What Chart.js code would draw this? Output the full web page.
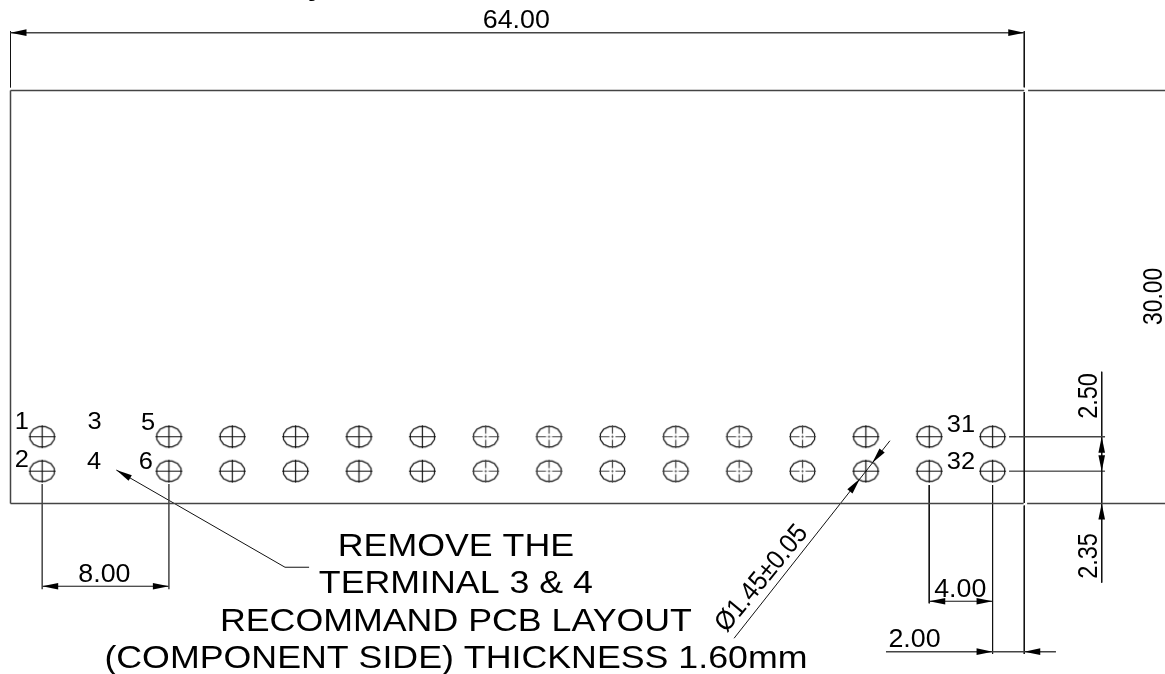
<!DOCTYPE html>
<html>
<head>
<meta charset="utf-8">
<title>PCB layout</title>
<script src="https://cdn.jsdelivr.net/npm/chart.js@4/dist/chart.umd.min.js"></script>
<style>
  html, body { margin: 0; padding: 0; background: #fff; }
  canvas { display: block; }
</style>
</head>
<body>
<canvas id="grafico" width="1165" height="674"></canvas>
<script>
// all values in mm, measured from the bottom left corner of the board
const solidHoleX = [2, 10, 14, 18, 22, 26, 54, 58, 62];
const dashedHoleX = [30, 34, 38, 42, 46, 50];
const holeRowY = [4.85, 2.35];

// [x1, y1, x2, y2]
const boardLines = [
  [0, 30, 64, 30], [64.24, 30, 72.89, 30],
  [0, 0, 63.96, 0], [64.18, 0, 72.89, 0],
  [0, 0, 0, 30],
  [0, 34.2, 64, 34.2],
  [2, 1.42, 2, -6.23], [10, 1.42, 10, -6.23],
  [63.04, 4.85, 69.1, 4.85],
  [55.27, -10.76, 66, -10.76]
];
const thinLines = [
  [0, 34.3, 0, 30.23],
  [64, 34.3, 64, 30.23], [64, 29.89, 64, 0.04], [64, -0.15, 64, -10.93],
  [63.04, 2.35, 69.1, 2.35],
  [68.89, 9.57, 68.89, -5.75],
  [58, 1.34, 58, -7.25], [62, 1.34, 62, -10.93],
  [2, -6.01, 10, -6.01], [58, -7.1, 62, -7.1],
  [6.68, 2.43, 17.33, -4.63], [17.33, -4.63, 18.85, -4.63],
  [55.52, 4.56, 45.68, -9.79]
];

// tip x, tip y, direction in degrees on screen
const arrowTips = [
  [0, 34.2, 180], [64, 34.2, 0],
  [2, -6.01, 180], [10, -6.01, 0],
  [58, -7.1, 180], [62, -7.1, 0],
  [62, -10.76, 0], [64, -10.76, 180],
  [68.89, 4.85, -90], [68.89, 2.35, 90], [68.89, 0, -90],
  [54.4, 2.94, 128.3], [53.62, 1.79, -51.7],
  [6.68, 2.43, -150.2]
];

const dimensionTexts = ['64.00', '30.00', '2.50', '2.35', '8.00', '4.00', '2.00', '\u00d81.45\u00b10.05'];
const terminalTexts = ['1', '2', '3', '4', '5', '6', '31', '32'];
const noteTexts = ['REMOVE THE', 'TERMINAL 3 & 4', 'RECOMMAND PCB LAYOUT', '(COMPONENT SIDE) THICKNESS 1.60mm'];

function linhas(segmentos) {
  const pontos = [];
  segmentos.forEach(s => {
    pontos.push({ x: s[0], y: s[1] }, { x: s[2], y: s[3] }, { x: null, y: null });
  });
  return pontos;
}

function furos(xs, y) {
  return xs.map(x => ({ x, y }));
}

// hole symbol used as point style
function simboloFuro(tracejado) {
  const c = document.createElement('canvas');
  c.width = 31;
  c.height = 27;
  const g = c.getContext('2d');
  const cx = 15.5, cy = 13.5, rx = 12.5, ry = 10.5;
  g.strokeStyle = '#111';
  g.lineWidth = 1.2;
  g.beginPath();
  for (let i = 0; i < 12; i++) {
    const a = (i + 0.5) * Math.PI / 6;
    g.lineTo(cx + rx * Math.cos(a), cy + ry * Math.sin(a));
  }
  g.closePath();
  g.stroke();
  g.strokeStyle = tracejado ? '#444' : '#111';
  g.beginPath();
  if (tracejado) {
    g.moveTo(cx - rx - 1, cy); g.lineTo(cx - 3, cy);
    g.moveTo(cx - 1, cy); g.lineTo(cx + 1, cy);
    g.moveTo(cx + 3, cy); g.lineTo(cx + rx + 1, cy);
    g.moveTo(cx, cy - ry - 1); g.lineTo(cx, cy - 3);
    g.moveTo(cx, cy - 1); g.lineTo(cx, cy + 1);
    g.moveTo(cx, cy + 3); g.lineTo(cx, cy + ry + 1);
  } else {
    g.moveTo(cx - rx - 1, cy); g.lineTo(cx + rx + 1, cy);
    g.moveTo(cx, cy - ry - 1); g.lineTo(cx, cy + ry + 1);
  }
  g.stroke();
  return c;
}

const furoSolido = simboloFuro(false);
const furoTracejado = simboloFuro(true);

// text placement: text, x, y, font px, angle, stretch along the baseline, weight
const rotulos = [
  [dimensionTexts[0], 31.93, 34.52, 26, 0, 1.03],
  [dimensionTexts[1], 72.71, 15.04, 28, -90, 0.814],
  [dimensionTexts[2], 68.57, 7.81, 28, -90, 0.84],
  [dimensionTexts[3], 68.6, -3.81, 28, -90, 0.84],
  [dimensionTexts[4], 5.93, -5.7, 26, 0, 1.03],
  [dimensionTexts[5], 59.96, -6.77, 26, 0, 1.03],
  [dimensionTexts[6], 57.07, -10.4, 26, 0, 1.03],
  [dimensionTexts[7], 47.8, -5.8, 27, -50.5, 0.92],
  [terminalTexts[0], 0.72, 5.43, 24, 0, 1.06],
  [terminalTexts[1], 0.72, 2.68, 24, 0, 1.06],
  [terminalTexts[2], 5.3, 5.4, 24, 0, 1.06],
  [terminalTexts[3], 5.27, 2.51, 24, 0, 1.06],
  [terminalTexts[4], 8.68, 5.35, 24, 0, 1.06],
  [terminalTexts[5], 8.54, 2.51, 24, 0, 1.06],
  [terminalTexts[6], 60.0, 5.2, 24, 0, 1.06],
  [terminalTexts[7], 60.0, 2.49, 24, 0, 1.06],
  [noteTexts[0], 28.12, -3.79, 30.5, 0, 1.172],
  [noteTexts[1], 28.12, -6.52, 30.5, 0, 1.172],
  [noteTexts[2], 28.12, -9.28, 30.5, 0, 1.172],
  [noteTexts[3], 28.12, -11.95, 30.5, 0, 1.172],
  // the title is cut off by the top of the picture, only this tail is left
  ['y', 19.3, 36.93, 30, 0, 1, 'bold']
];

const desenho = {
  id: 'desenho',
  afterDatasetsDraw(chart) {
    const { ctx, scales } = chart;
    ctx.save();
    ctx.fillStyle = '#000';
    arrowTips.forEach(a => {
      ctx.save();
      ctx.translate(scales.x.getPixelForValue(a[0]), scales.y.getPixelForValue(a[1]));
      ctx.rotate(a[2] * Math.PI / 180);
      ctx.beginPath();
      ctx.moveTo(0, 0);
      ctx.lineTo(-16, -3.3);
      ctx.lineTo(-16, 3.3);
      ctx.closePath();
      ctx.fill();
      ctx.restore();
    });
    ctx.textAlign = 'center';
    ctx.textBaseline = 'alphabetic';
    rotulos.forEach(r => {
      ctx.save();
      ctx.translate(scales.x.getPixelForValue(r[1]), scales.y.getPixelForValue(r[2]));
      ctx.rotate(r[4] * Math.PI / 180);
      ctx.scale(r[5], 1);
      ctx.font = (r[6] || 'normal') + ' ' + r[3] + 'px "Liberation Sans"';
      ctx.fillText(r[0], 0, 0);
      ctx.restore();
    });
    ctx.restore();
  }
};

new Chart(document.getElementById('grafico'), {
  type: 'scatter',
  data: {
    datasets: [
      { data: linhas(boardLines), showLine: true, borderColor: '#444', borderWidth: 1.5, pointRadius: 0 },
      { data: linhas(thinLines), showLine: true, borderColor: '#111', borderWidth: 1, pointRadius: 0 },
      { data: furos(solidHoleX, holeRowY[0]), pointStyle: furoSolido },
      { data: furos(solidHoleX, holeRowY[1]), pointStyle: furoSolido },
      { data: furos(dashedHoleX, holeRowY[0]), pointStyle: furoTracejado },
      { data: furos(dashedHoleX, holeRowY[1]), pointStyle: furoTracejado }
    ]
  },
  options: {
    responsive: false,
    animation: false,
    events: [],
    layout: { padding: 0, autoPadding: false },
    scales: {
      x: { type: 'linear', display: false, min: -0.663, max: 72.885 },
      y: { type: 'linear', display: false, min: -12.385, max: 36.573 }
    },
    plugins: {
      legend: { display: false },
      tooltip: { enabled: false }
    }
  },
  plugins: [desenho]
});
</script>
</body>
</html>
